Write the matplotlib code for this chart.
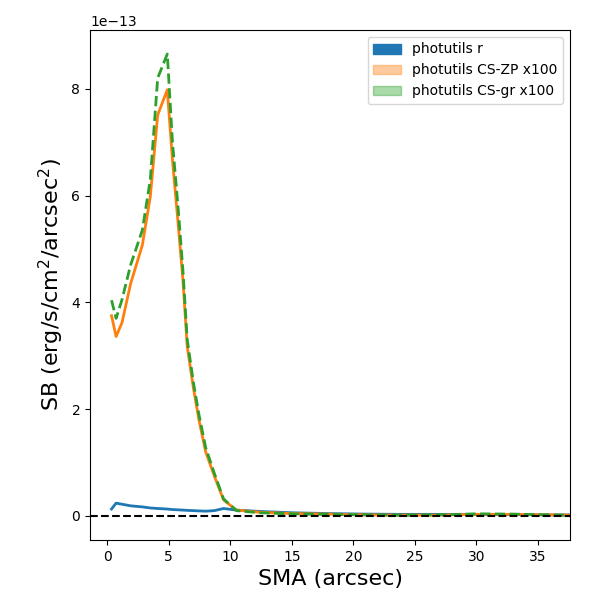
import matplotlib
matplotlib.use("Agg")
import matplotlib.pyplot as plt
from matplotlib.patches import Patch
import numpy as np

# SMA grid (arcsec) and surface brightness profiles (units of 1e-13)
sma = [0.35, 0.72, 1.2, 1.9, 2.85, 3.5, 4.1, 4.88, 5.3, 5.75, 6.15, 6.5, 7.0, 7.45,
       8.0, 8.7, 9.45, 10.5, 12.4, 15.0, 18.0, 21.0, 24.0, 27.0, 30.0, 33.0, 36.0, 37.5]
sb_r = [0.13, 0.24, 0.22, 0.19, 0.17, 0.15, 0.14, 0.13, 0.12, 0.115, 0.11, 0.105, 0.10, 0.095,
        0.09, 0.10, 0.14, 0.11, 0.085, 0.06, 0.045, 0.035, 0.03, 0.03, 0.03, 0.025, 0.02, 0.02]
sb_zp = [3.75, 3.36, 3.62, 4.35, 5.07, 5.98, 7.51, 7.98, 6.67, 5.5, 4.42, 3.17, 2.4, 1.8,
         1.2, 0.75, 0.30, 0.11, 0.07, 0.045, 0.035, 0.02, 0.015, 0.015, 0.03, 0.03, 0.02, 0.015]
sb_gr = [4.04, 3.70, 4.05, 4.7, 5.35, 6.3, 8.2, 8.65, 7.0, 5.8, 4.6, 3.3, 2.5, 1.9,
         1.28, 0.8, 0.32, 0.10, 0.06, 0.04, 0.03, 0.02, 0.015, 0.02, 0.04, 0.035, 0.02, 0.015]

scale = 1e-13
sma = np.array(sma)

fig = plt.figure(figsize=(6, 6), dpi=100)
ax = fig.add_axes([0.15, 0.1, 0.8, 0.85])

ax.plot(sma, np.array(sb_r) * scale, color='C0', lw=2)
ax.plot(sma, np.array(sb_zp) * scale, color='C1', lw=2)
ax.plot(sma, np.array(sb_gr) * scale, color='C2', lw=2, ls='--')
ax.axhline(0, color='k', ls='--', lw=1.5)

ax.set_xlim(-1.4, 37.6)
ax.set_ylim(-0.45e-13, 9.1e-13)

ax.set_xlabel('SMA (arcsec)', fontsize=16)
ax.set_ylabel('SB (erg/s/cm$^2$/arcsec$^2$)', fontsize=16)

handles = [Patch(color='C0', label='photutils r'),
           Patch(color='C1', alpha=0.4, label='photutils CS-ZP x100'),
           Patch(color='C2', alpha=0.4, label='photutils CS-gr x100')]
ax.legend(handles=handles, loc='upper right')

fig.savefig('out.png', dpi=100)
